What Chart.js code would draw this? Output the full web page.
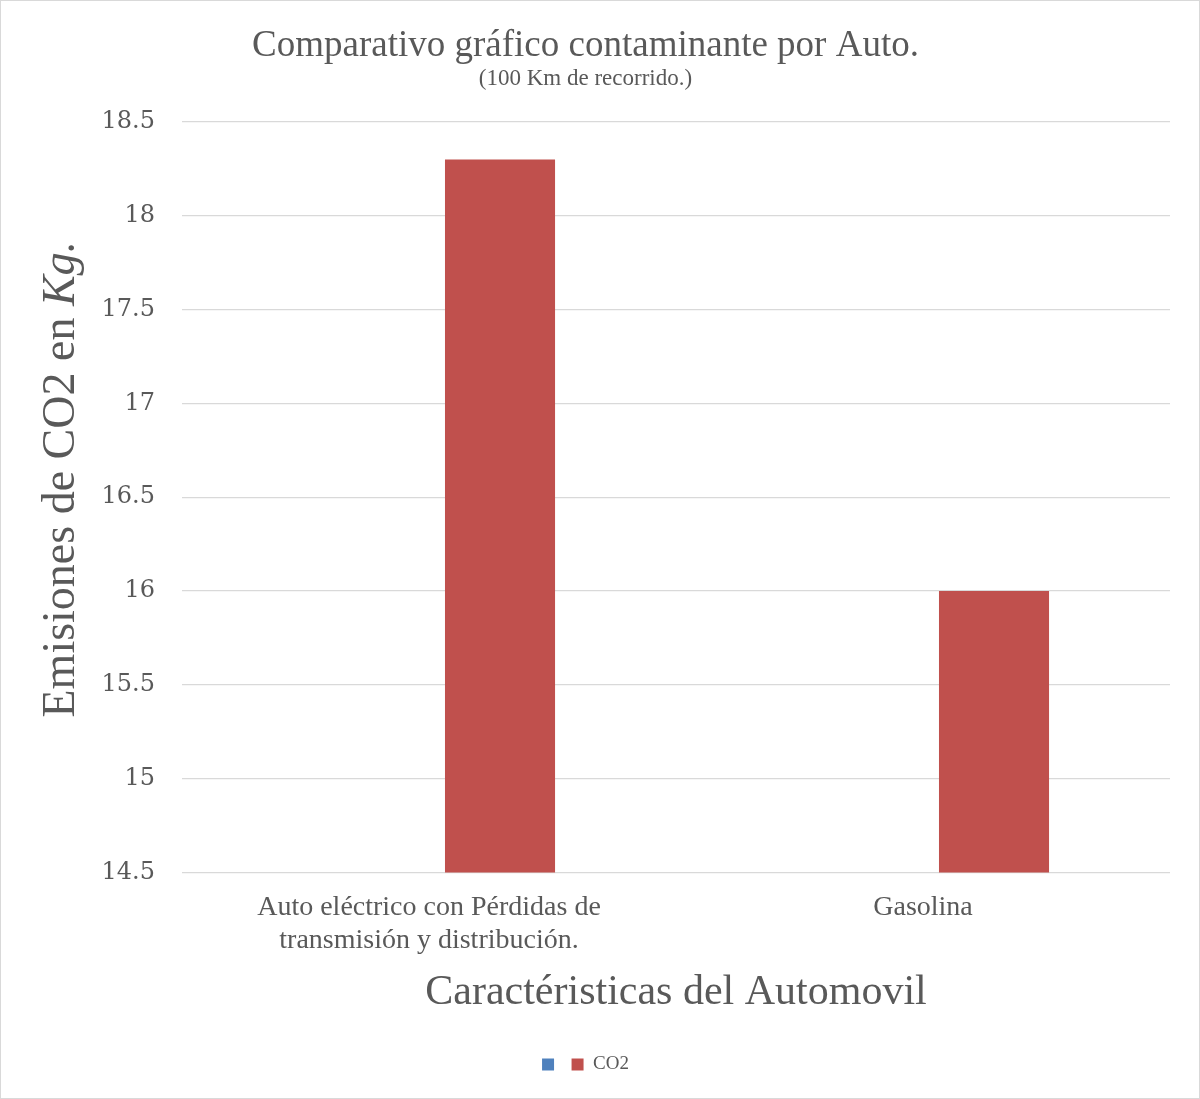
<!DOCTYPE html>
<html>
<head>
<meta charset="utf-8">
<script src="https://cdn.jsdelivr.net/npm/chart.js@4"></script>
<style>
  html, body { margin: 0; padding: 0; background: #fff; }
  #wrap { width: 1200px; height: 1099px; box-sizing: border-box; border: 1px solid #d9d9d9; }
</style>
</head>
<body>
<div id="wrap"><canvas id="myChart" width="1198" height="1097"></canvas></div>
<script>
// categorias y valores
var categorias = [["Auto eléctrico con Pérdidas de", "transmisión y distribución."], "Gasolina"];
var serieAzul = [null, null];
var serieCO2 = [18.3, 16.0];
var ejeMin = 14.5;
var ejeMax = 18.5;
var ejePaso = 0.5;

var gris = '#595959';
var serif = '"Liberation Serif", serif';

// titulo del eje Y con "Kg." en cursiva
var tituloY = {
    id: 'tituloY',
    afterDraw: function (chart) {
        var c = chart.ctx;
        var area = chart.chartArea;
        var a = 'Emisiones de CO2 en ';
        var b = 'Kg.';
        c.save();
        c.fillStyle = gris;
        c.textBaseline = 'middle';
        c.font = '46px ' + serif;
        var wa = c.measureText(a).width;
        c.font = 'italic 46px ' + serif;
        var wb = c.measureText(b).width;
        c.translate(61, (area.top + area.bottom) / 2 - 18);
        c.rotate(-Math.PI / 2);
        var x0 = -(wa + wb) / 2;
        c.font = '46px ' + serif;
        c.textAlign = 'left';
        c.fillText(a, x0, 0);
        c.font = 'italic 46px ' + serif;
        c.fillText(b, x0 + wa, 0);
        c.restore();
    }
};

var ctx = document.getElementById('myChart');
var myBarChart = new Chart(ctx, {
    type: 'bar',
    data: {
        labels: categorias,
        datasets: [{
            label: '',
            backgroundColor: '#4F81BD',
            data: serieAzul
        }, {
            label: 'CO2',
            backgroundColor: '#C0504D',
            data: serieCO2
        }]
    },
    options: {
        responsive: false,
        animation: false,
        categoryPercentage: 0.575,
        barPercentage: 0.775,
        layout: {
            padding: { left: 0, right: 29, top: 0, bottom: 14 }
        },
        plugins: {
            title: {
                display: true,
                text: 'Comparativo gráfico contaminante por Auto.',
                color: gris,
                font: { family: serif, size: 37, weight: 'normal' },
                padding: { top: 23, bottom: 0 }
            },
            subtitle: {
                display: true,
                text: '(100 Km de recorrido.)',
                color: gris,
                font: { family: serif, size: 23, weight: 'normal' },
                padding: { top: -3, bottom: 29 }
            },
            legend: {
                position: 'bottom',
                labels: {
                    color: gris,
                    boxWidth: 12,
                    boxHeight: 12,
                    padding: 8,
                    font: { family: serif, size: 19 }
                }
            },
            tooltip: { enabled: false }
        },
        scales: {
            x: {
                grid: { display: false },
                border: { display: false },
                ticks: {
                    color: gris,
                    padding: 10,
                    maxRotation: 0,
                    font: { family: serif, size: 28, lineHeight: 1.2 }
                },
                title: {
                    display: true,
                    text: 'Caractéristicas del Automovil',
                    color: gris,
                    font: { family: serif, size: 42 },
                    padding: { top: 0, bottom: 29 }
                }
            },
            y: {
                min: ejeMin,
                max: ejeMax,
                afterFit: function (scale) { scale.width = 181; },
                grid: { color: '#d9d9d9', lineWidth: 1.3, drawTicks: false },
                border: { display: false },
                ticks: {
                    stepSize: ejePaso,
                    color: gris,
                    padding: 27,
                    font: { family: '"DejaVu Serif", serif', size: 24 },
                    callback: function (v) { return String(Math.round(v * 10) / 10); }
                }
            }
        }
    },
    plugins: [tituloY]
});
</script>
</body>
</html>
